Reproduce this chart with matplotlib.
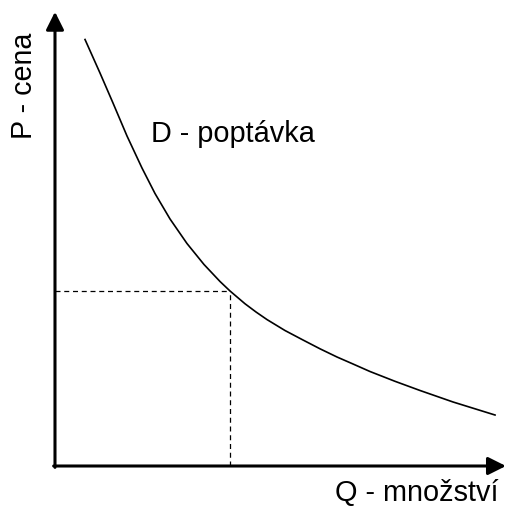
import matplotlib
matplotlib.use("Agg")
import matplotlib.pyplot as plt

# Demand curve points (Q, P)
q_vals = [0.667, 1.000, 1.289, 1.600, 1.933, 2.222, 2.556, 2.933, 3.311, 3.667, 3.889,
          4.222, 4.467, 4.711, 5.111, 5.511, 5.889, 6.267, 6.622, 7.000, 7.556,
          8.111, 8.844, 9.778]
p_vals = [9.353, 8.618, 7.960, 7.237, 6.535, 5.976, 5.417, 4.879, 4.419, 4.046, 3.838,
          3.558, 3.377, 3.211, 2.971, 2.763, 2.570, 2.390, 2.237, 2.072, 1.857,
          1.656, 1.404, 1.118]
q_eq = 3.889
p_eq = 3.838
x_label = "Q - množství"
y_label = "P - cena"
curve_label = "D - poptávka"

plt.rcParams['font.family'] = ['Liberation Sans', 'DejaVu Sans']

fig = plt.figure(figsize=(5.07, 5.08), dpi=100)
ax = fig.add_axes([0, 0, 1, 1])
ax.set_xlim(-1.222, 10.044)
ax.set_ylim(-0.921, 10.219)
ax.axis('off')

ax.plot(q_vals, p_vals, color='black', lw=1.2, solid_joinstyle='round')
ax.plot([0, q_eq], [p_eq, p_eq], color='black', lw=0.9, ls=(0, (4, 3)))
ax.plot([q_eq, q_eq], [0, p_eq], color='black', lw=0.9, ls=(0, (4, 3)))

arrow = dict(arrowstyle='-|>,head_length=0.9,head_width=0.45', lw=2.2, color='black',
             shrinkA=0, shrinkB=0, mutation_scale=12)
ax.annotate('', xy=(0, 9.96), xytext=(0, -0.03), arrowprops=arrow)
ax.annotate('', xy=(10.02, 0), xytext=(-0.03, 0), arrowprops=arrow)

ax.text(-0.511, 8.33, y_label, rotation=90, rotation_mode='anchor',
        ha='center', va='baseline', fontsize=20.6)
ax.text(8.03, -0.77, x_label, ha='center', va='baseline', fontsize=20.8)
ax.text(2.13, 7.105, curve_label, ha='left', va='baseline', fontsize=20.8)

fig.savefig('out.png', dpi=100)
